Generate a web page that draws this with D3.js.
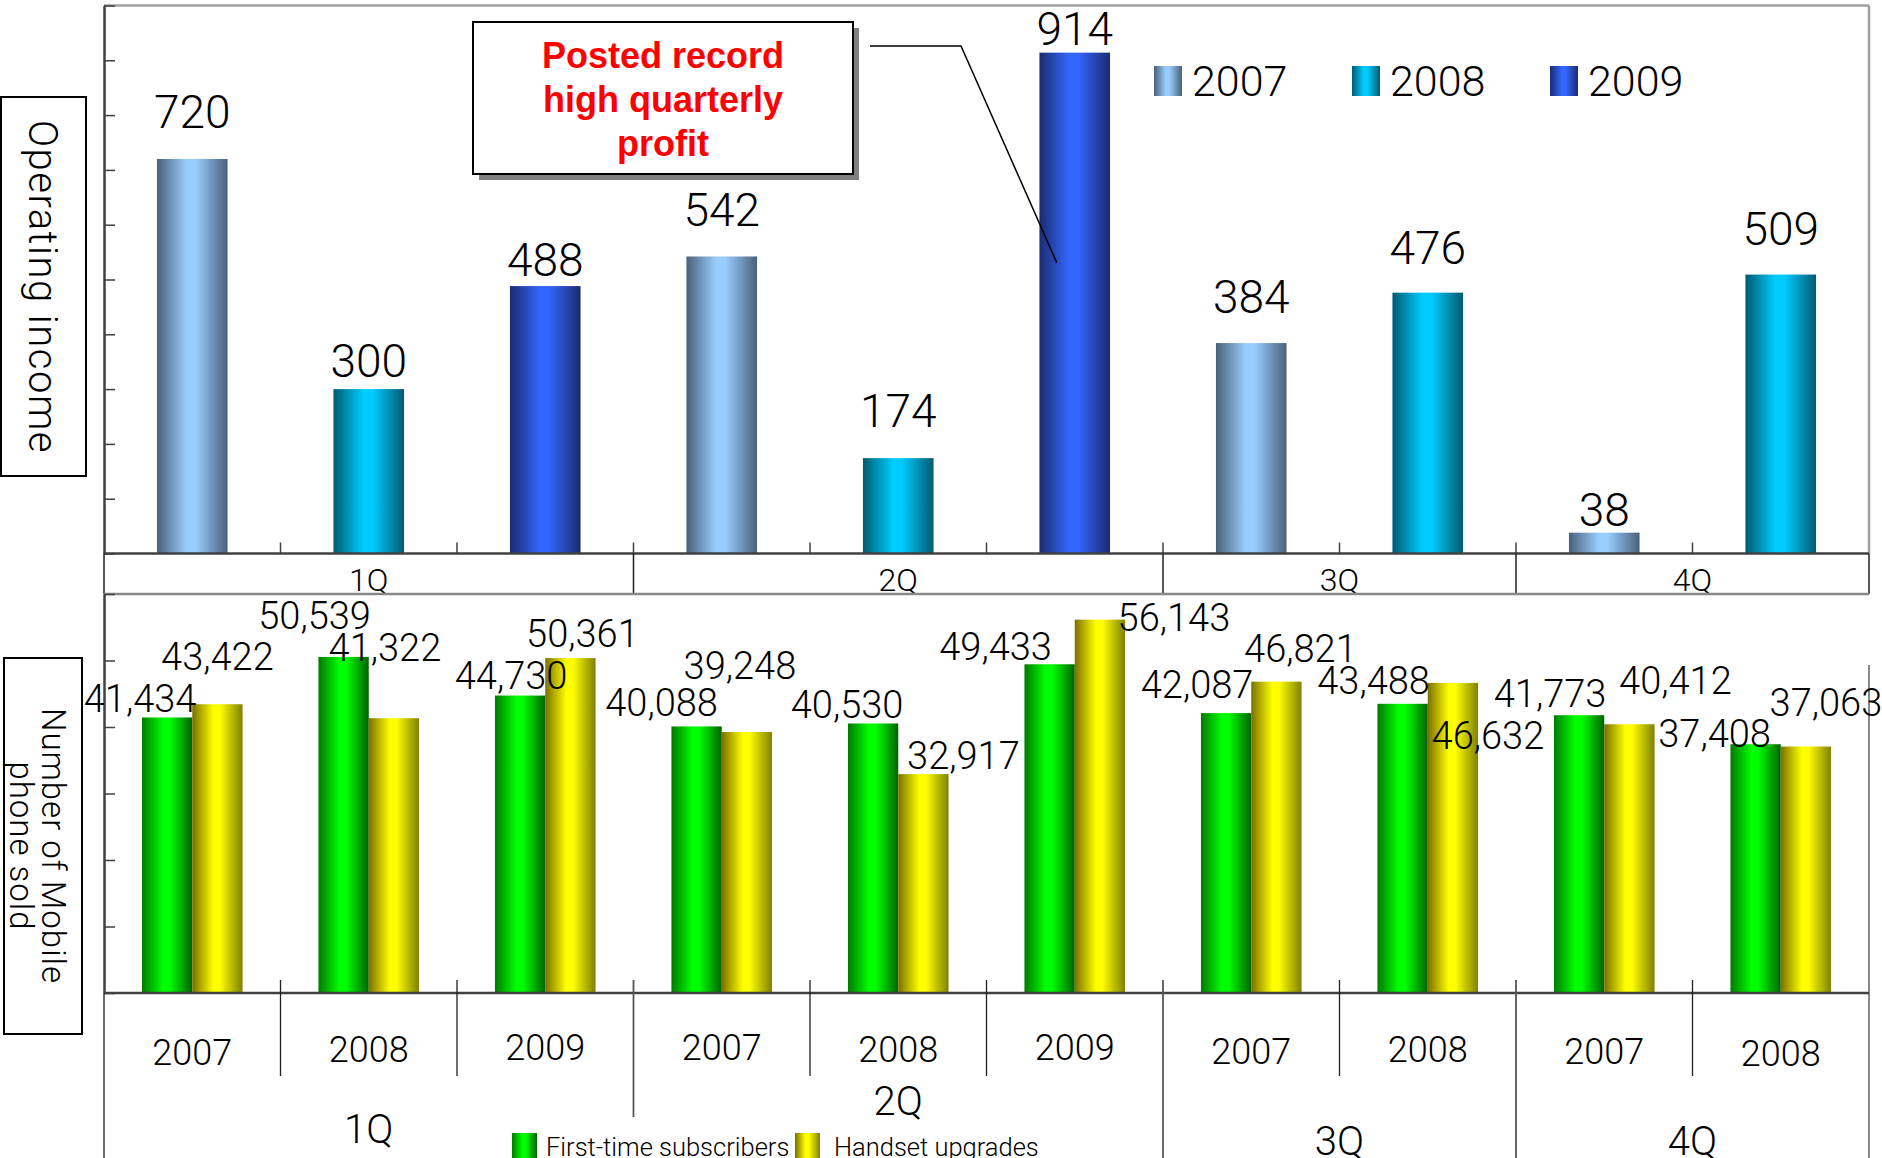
<!DOCTYPE html>
<html>
<head>
<meta charset="utf-8">
<script src="https://cdn.jsdelivr.net/npm/d3@7"></script>
<style>
  body { margin: 0; background: #ffffff; }
  svg  { display: block; font-family: Roboto, "Open Sans", sans-serif; }
</style>
</head>
<body>
<svg id="chart" width="1882" height="1158"></svg>
<script>
/* =========================================================
   Data
   ========================================================= */

const QUARTERS       = ["1Q", "2Q", "3Q", "4Q"];
const PERIOD_QUARTER = ["1Q", "1Q", "1Q", "2Q", "2Q", "2Q", "3Q", "3Q", "4Q", "4Q"];
const PERIOD_YEAR    = ["2007", "2008", "2009", "2007", "2008", "2009", "2007", "2008", "2007", "2008"];
const YEARS          = ["2007", "2008", "2009"];

const OPERATING_INCOME = [720, 300, 488, 542, 174, 914, 384, 476, 38, 509];
const FIRST_TIME       = [41434, 50539, 44730, 40088, 40530, 49433, 42087, 43488, 41773, 37408];
const UPGRADES         = [43422, 41322, 50361, 39248, 32917, 56143, 46821, 46632, 40412, 37063];

const SALES_SERIES = ["First-time subscribers", "Handset upgrades"];
const INCOME_TICKS = [0, 100, 200, 300, 400, 500, 600, 700, 800, 900, 1000];
const SALES_TICKS  = [0, 10000, 20000, 30000, 40000, 50000, 60000];

const CALLOUT_LINES = ["Posted record", "high quarterly", "profit"];

/* =========================================================
   Layout
   ========================================================= */

const PLOT_LEFT  = 104;
const PLOT_RIGHT = 1869;
const TOP_BASE   = 553.5;
const TOP_TOP    = 5.5;
const BOT_BASE   = 993;
const BOT_TOP    = 594;

// gap between bar top and label baseline, upper chart
const INCOME_LABEL_GAP = [31, 12, 10, 30, 31, 8, 30, 29, 7, 30];

// label placement in the lower chart: [dx from bar centre, gap above bar top]
const FIRST_LABEL_POS = [[-27, 5], [-29, 28], [-9, 7], [-35, 10], [-26, 5],
                         [-54, 4], [-29, 15], [-29, 10], [-29, 8], [-41, -3]];
const UPGRADE_LABEL_POS = [[0, 34], [-9, 57], [12, 11], [-7, 53], [40, 5],
                           [74, -11], [24, 20], [35, -66], [46, 30], [20, 31]];

const YEAR_LABEL_Y    = [1065, 1062, 1060, 1060, 1062, 1060, 1064, 1062, 1064, 1066];
const QUARTER_LABEL_Y = [1143, 1115, 1155, 1155];

/* =========================================================
   Colours
   ========================================================= */

const YEAR_GRADIENT = {
    "2007": ["#4a6079", "#99ccff", "#4a6079"],
    "2008": ["#005a70", "#00ccff", "#005a70"],
    "2009": ["#1a2c70", "#3366ff", "#1a2c70"]
};
const SERIES_GRADIENT = [
    ["#007a00", "#00ff00", "#006200"],
    ["#7a7000", "#ffff00", "#808000"]
];

const AXIS_DARK  = "#404040";
const FRAME_GREY = "#a0a0a0";

/* =========================================================
   Setup
   ========================================================= */

const svg  = d3.select("#chart");
const defs = svg.append("defs");

function addGradient(id, [edge, mid, edge2]) {
    const g = defs.append("linearGradient")
        .attr("id", id)
        .attr("x1", 0).attr("x2", 1).attr("y1", 0).attr("y2", 0);
    g.append("stop").attr("offset", 0).attr("stop-color", edge);
    g.append("stop").attr("offset", 0.42).attr("stop-color", mid);
    g.append("stop").attr("offset", 0.55).attr("stop-color", mid);
    g.append("stop").attr("offset", 1).attr("stop-color", edge2);
}

YEARS.forEach(y => addGradient(`g${y}`, YEAR_GRADIENT[y]));
SERIES_GRADIENT.forEach((c, i) => addGradient(`s${i}`, c));

defs.append("clipPath").attr("id", "topClip")
    .append("rect").attr("x", 0).attr("y", 0).attr("width", 1882).attr("height", BOT_TOP);

const x = d3.scaleBand()
    .domain(d3.range(OPERATING_INCOME.length))
    .range([PLOT_LEFT, PLOT_RIGHT]);

const yIncome = d3.scaleLinear().domain([0, 1000]).range([TOP_BASE, TOP_TOP]);
const ySales  = d3.scaleLinear().domain([0, 60000]).range([BOT_BASE, BOT_TOP]);

const bw = x.bandwidth();
const fmt = d3.format(",");

// quarter spans from the period list
const quarterSpan = QUARTERS.map(q => {
    const idx = PERIOD_QUARTER.map((p, i) => p === q ? i : -1).filter(i => i >= 0);
    return { q, x0: x(idx[0]), x1: x(idx[idx.length - 1]) + bw };
});

function line(g, x1, y1, x2, y2, stroke, w) {
    g.append("line")
        .attr("x1", x1).attr("y1", y1).attr("x2", x2).attr("y2", y2)
        .attr("stroke", stroke).attr("stroke-width", w);
}

/* =========================================================
   Upper chart: operating income
   ========================================================= */

const topG = svg.append("g");

line(topG, PLOT_LEFT, TOP_TOP, PLOT_RIGHT, TOP_TOP, FRAME_GREY, 2.5);
line(topG, PLOT_RIGHT, TOP_TOP, PLOT_RIGHT, TOP_BASE, FRAME_GREY, 2.5);

const incomeBarW = bw * 0.4;

topG.selectAll("rect.income")
    .data(OPERATING_INCOME)
    .enter()
    .append("rect")
    .attr("class", "income")
    .attr("x", (_, i) => x(i) + (bw - incomeBarW) / 2)
    .attr("y", v => yIncome(v))
    .attr("width", incomeBarW)
    .attr("height", v => yIncome(0) - yIncome(v))
    .attr("fill", (_, i) => `url(#g${PERIOD_YEAR[i]})`);

topG.append("g")
    .attr("transform", `translate(${PLOT_LEFT},0)`)
    .call(d3.axisLeft(yIncome).tickValues(INCOME_TICKS).tickSize(-11).tickSizeOuter(0).tickFormat(""))
    .call(g => g.selectAll("line").attr("stroke", AXIS_DARK).attr("stroke-width", 1.5))
    .call(g => g.select(".domain").attr("stroke", AXIS_DARK).attr("stroke-width", 2.5));

line(topG, PLOT_LEFT, TOP_BASE, PLOT_RIGHT, TOP_BASE, AXIS_DARK, 2.5);

// small category ticks above the base line
d3.range(1, OPERATING_INCOME.length).forEach(i => {
    line(topG, x(i), TOP_BASE - 11, x(i), TOP_BASE, AXIS_DARK, 1.5);
});

// quarter row under the upper chart
[PLOT_LEFT, ...quarterSpan.map(s => s.x1)].forEach(xx => {
    line(topG, xx, TOP_BASE, xx, BOT_TOP, "#202020", 1.5);
});

topG.append("g")
    .attr("clip-path", "url(#topClip)")
    .selectAll("text")
    .data(quarterSpan)
    .enter()
    .append("text")
    .attr("x", s => (s.x0 + s.x1) / 2)
    .attr("y", 591)
    .attr("text-anchor", "middle")
    .attr("font-size", 32)
    .attr("font-weight", 300)
    .attr("fill", "#000")
    .text(s => s.q);

topG.selectAll("text.income-label")
    .data(OPERATING_INCOME)
    .enter()
    .append("text")
    .attr("class", "income-label")
    .attr("x", (_, i) => x(i) + bw / 2)
    .attr("y", (v, i) => yIncome(v) - INCOME_LABEL_GAP[i])
    .attr("text-anchor", "middle")
    .attr("font-size", 46)
    .attr("font-weight", 300)
    .attr("fill", "#000")
    .text(v => v);

// legend
const legTop = topG.append("g").attr("transform", "translate(1154,66)");
YEARS.forEach((yr, i) => {
    const item = legTop.append("g").attr("transform", `translate(${i * 198},0)`);
    item.append("rect").attr("width", 28).attr("height", 30).attr("fill", `url(#g${yr})`);
    item.append("text")
        .attr("x", 38).attr("y", 30)
        .attr("font-size", 43)
        .attr("font-weight", 300)
        .attr("fill", "#000")
        .text(yr);
});

// callout
const call = topG.append("g");
call.append("rect")
    .attr("x", 479).attr("y", 28).attr("width", 380).attr("height", 152)
    .attr("fill", "#808080");
call.append("rect")
    .attr("x", 473).attr("y", 22).attr("width", 380).attr("height", 152)
    .attr("fill", "#ffffff").attr("stroke", "#000").attr("stroke-width", 2);
call.selectAll("text")
    .data(CALLOUT_LINES)
    .enter()
    .append("text")
    .attr("x", 663)
    .attr("y", (_, i) => 68 + i * 44)
    .attr("text-anchor", "middle")
    .attr("font-family", "'Liberation Sans', Arial, sans-serif")
    .attr("font-weight", 700)
    .attr("font-size", 36)
    .attr("fill", "#ff0000")
    .text(d => d);

// leader line to the record bar
const recordIdx = OPERATING_INCOME.indexOf(d3.max(OPERATING_INCOME));
topG.append("polyline")
    .attr("points", [
        [870, 46], [961, 46],
        [x(recordIdx) + bw / 2 - 18, yIncome(OPERATING_INCOME[recordIdx]) + 210]
    ].map(p => p.join(",")).join(" "))
    .attr("fill", "none")
    .attr("stroke", "#000")
    .attr("stroke-width", 1.5);

// y title
topG.append("rect")
    .attr("x", 1).attr("y", 97).attr("width", 85).attr("height", 379)
    .attr("fill", "none").attr("stroke", "#000").attr("stroke-width", 2);
topG.append("text")
    .attr("transform", "translate(42,287) rotate(90)")
    .attr("text-anchor", "middle")
    .attr("dominant-baseline", "central")
    .attr("font-size", 40)
    .attr("letter-spacing", 1.5)
    .attr("font-weight", 300)
    .attr("fill", "#000")
    .text("Operating income");

/* =========================================================
   Lower chart: mobile phones sold
   ========================================================= */

const botG = svg.append("g");

line(botG, PLOT_LEFT, BOT_TOP, PLOT_RIGHT, BOT_TOP, "#888888", 2.5);
line(botG, PLOT_RIGHT, 665, PLOT_RIGHT, 1158, "#888888", 2);

const salesBarW = bw * 0.285;
const pairW = salesBarW * 2;
const barX = (i, s) => x(i) + (bw - pairW) / 2 + s * salesBarW;

[FIRST_TIME, UPGRADES].forEach((series, s) => {
    botG.selectAll(`rect.sales${s}`)
        .data(series)
        .enter()
        .append("rect")
        .attr("class", `sales${s}`)
        .attr("x", (_, i) => barX(i, s))
        .attr("y", v => ySales(v))
        .attr("width", salesBarW)
        .attr("height", v => ySales(0) - ySales(v))
        .attr("fill", `url(#s${s})`);
});

botG.append("g")
    .attr("transform", `translate(${PLOT_LEFT},0)`)
    .call(d3.axisLeft(ySales).tickValues(SALES_TICKS).tickSize(-11).tickSizeOuter(0).tickFormat(""))
    .call(g => g.selectAll("line").attr("stroke", AXIS_DARK).attr("stroke-width", 1.5))
    .call(g => g.select(".domain").attr("stroke", AXIS_DARK).attr("stroke-width", 2.5));

line(botG, PLOT_LEFT, BOT_BASE, PLOT_RIGHT, BOT_BASE, AXIS_DARK, 2.5);

// value labels
[[FIRST_TIME, FIRST_LABEL_POS], [UPGRADES, UPGRADE_LABEL_POS]].forEach(([series, pos], s) => {
    botG.selectAll(`text.sales${s}`)
        .data(series)
        .enter()
        .append("text")
        .attr("class", `sales${s}`)
        .attr("x", (_, i) => barX(i, s) + salesBarW / 2 + pos[i][0])
        .attr("y", (v, i) => ySales(v) - pos[i][1])
        .attr("text-anchor", "middle")
        .attr("font-size", 38)
        .attr("font-weight", 300)
        .attr("fill", "#000")
        .text(v => fmt(v));
});

// category axis: year row and quarter row
const quarterEnds = new Set(quarterSpan.map(s => s.x1));
d3.range(1, FIRST_TIME.length).forEach(i => {
    const xx = x(i);
    if (quarterEnds.has(xx)) {
        const bottom = xx === quarterSpan[0].x1 ? 1117 : 1158;
        line(botG, xx, BOT_BASE - 13, xx, bottom, "#555555", 1.8);
    } else {
        line(botG, xx, BOT_BASE - 13, xx, 1076, "#202020", 1.3);
    }
});
line(botG, PLOT_LEFT, BOT_BASE, PLOT_LEFT, 1158, "#202020", 1.3);

botG.selectAll("text.year")
    .data(PERIOD_YEAR)
    .enter()
    .append("text")
    .attr("class", "year")
    .attr("x", (_, i) => x(i) + bw / 2)
    .attr("y", (_, i) => YEAR_LABEL_Y[i])
    .attr("text-anchor", "middle")
    .attr("font-size", 36)
    .attr("font-weight", 300)
    .attr("fill", "#000")
    .text(d => d);

botG.selectAll("text.quarter")
    .data(quarterSpan)
    .enter()
    .append("text")
    .attr("class", "quarter")
    .attr("x", s => (s.x0 + s.x1) / 2)
    .attr("y", (_, i) => QUARTER_LABEL_Y[i])
    .attr("text-anchor", "middle")
    .attr("font-size", 40)
    .attr("font-weight", 300)
    .attr("fill", "#000")
    .text(s => s.q);

// legend
const legBot = botG.append("g").attr("transform", "translate(512,1133)");
const legOffsets = [0, 283];
const legTextX   = [34, 39];
SALES_SERIES.forEach((name, i) => {
    const item = legBot.append("g").attr("transform", `translate(${legOffsets[i]},0)`);
    item.append("rect").attr("width", 25).attr("height", 30).attr("fill", `url(#s${i})`);
    item.append("text")
        .attr("x", legTextX[i]).attr("y", 23)
        .attr("font-size", 25.5)
        .attr("font-weight", 300)
        .attr("fill", "#000")
        .text(name);
});

// y title
botG.append("rect")
    .attr("x", 4).attr("y", 658).attr("width", 78).attr("height", 376)
    .attr("fill", "none").attr("stroke", "#000").attr("stroke-width", 2);
botG.append("text")
    .attr("transform", "translate(53,846) rotate(90)")
    .attr("text-anchor", "middle")
    .attr("dominant-baseline", "central")
    .attr("font-size", 33)
    .attr("letter-spacing", 1)
    .attr("font-weight", 300)
    .attr("fill", "#000")
    .text("Number of Mobile");
botG.append("text")
    .attr("transform", "translate(21,846) rotate(90)")
    .attr("text-anchor", "middle")
    .attr("dominant-baseline", "central")
    .attr("font-size", 33)
    .attr("letter-spacing", 1)
    .attr("font-weight", 300)
    .attr("fill", "#000")
    .text("phone sold");
</script>
</body>
</html>
